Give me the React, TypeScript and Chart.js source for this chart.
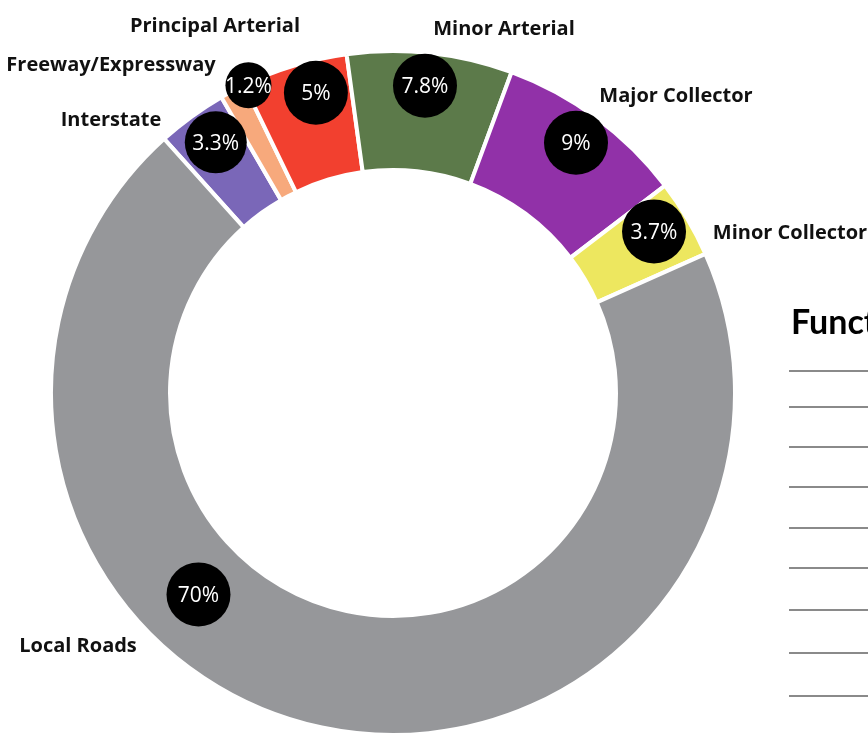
import React, { useEffect, useRef } from "react";
import { Chart, registerables } from "chart.js";

Chart.register(...registerables);

// ---- data ----
const categories = [
  "Interstate",
  "Freeway/Expressway",
  "Principal Arterial",
  "Minor Arterial",
  "Major Collector",
  "Minor Collector",
  "Local Roads",
];
const shares = [3.3, 1.2, 5, 7.8, 9, 3.7, 70];
const colors = ["#7a67b8", "#f7a97c", "#f2402f", "#5c7a4a", "#9131a8", "#ede75f", "#96979a"];

// ---- layout of annotations (not data) ----
const badgeAngleShift = [0.8, 2.8, 2.4, -0.3, -0.3, -1.1, 32]; // degrees from arc middle
const badgeDist = [307, 340, 310, 309, 310, 307, 280]; // px from centre
const badgeRadius = [31, 23, 32, 32, 32, 32, 32];
const nameOffsetX = [-282, -282, -178, 111, 283, 397, -315];
const nameOffsetY = [-267, -322, -361, -358, -291, -154, 259];

const tableTitle = "Functional Classification";
const tableRuleTops = [370, 406, 446, 486, 527, 567, 609, 652, 695];

const labelPlugin = {
  id: "badges",
  afterDatasetsDraw(chart: any) {
    const ctx = chart.ctx;
    const meta = chart.getDatasetMeta(0);
    ctx.save();
    meta.data.forEach((arc: any, i: number) => {
      const p = arc.getProps(["x", "y", "startAngle", "endAngle"], true);
      const mid = (p.startAngle + p.endAngle) / 2 + (badgeAngleShift[i] * Math.PI) / 180;
      const cx = p.x + Math.cos(mid) * badgeDist[i];
      const cy = p.y + Math.sin(mid) * badgeDist[i];
      ctx.beginPath();
      ctx.arc(cx, cy, badgeRadius[i], 0, Math.PI * 2);
      ctx.fillStyle = "#000";
      ctx.fill();
      ctx.fillStyle = "#fff";
      ctx.font = '21px "Open Sans"';
      ctx.textAlign = "center";
      ctx.textBaseline = "alphabetic";
      ctx.fillText(`${shares[i]}%`, cx, cy + 7.5);

      ctx.fillStyle = "#111";
      ctx.font = 'bold 20px "Open Sans"';
      ctx.fillText(categories[i], p.x + nameOffsetX[i], p.y + nameOffsetY[i]);
    });
    ctx.restore();
  },
};

export default function App() {
  const ref = useRef<HTMLCanvasElement | null>(null);
  useEffect(() => {
    if (!ref.current) return;
    const chart = new Chart(ref.current, {
      type: "doughnut",
      data: {
        labels: categories,
        datasets: [
          {
            data: shares,
            backgroundColor: colors,
            borderColor: "#ffffff",
            borderWidth: 4,
            clip: false as any,
          },
        ],
      },
      options: {
        responsive: false,
        animation: false,
        rotation: -42,
        radius: 342,
        cutout: "65.2%",
        layout: { padding: { top: 52, left: 0, right: 82, bottom: 0 } },
        plugins: { legend: { display: false }, tooltip: { enabled: false } },
      },
      plugins: [labelPlugin],
    });
    return () => chart.destroy();
  }, []);

  return (
    <div
      style={{
        position: "fixed",
        left: 0,
        top: 0,
        width: 868,
        height: 734,
        overflow: "hidden",
        background: "#fff",
        fontFamily: '"Open Sans", sans-serif',
      }}
    >
      <canvas ref={ref} width={868} height={734} style={{ position: "absolute", left: 0, top: 0 }} />
      <div
        style={{
          position: "absolute",
          left: 791,
          top: 299,
          fontSize: 34,
          fontWeight: 700,
          fontFamily: "Lato, sans-serif",
          whiteSpace: "nowrap",
          color: "#000",
          lineHeight: "44px",
        }}
      >
        {tableTitle}
      </div>
      {tableRuleTops.map((t, i) => (
        <div
          key={i}
          style={{ position: "absolute", left: 789, top: t, width: 100, height: 2, background: "#8a8a8a" }}
        />
      ))}
    </div>
  );
}
